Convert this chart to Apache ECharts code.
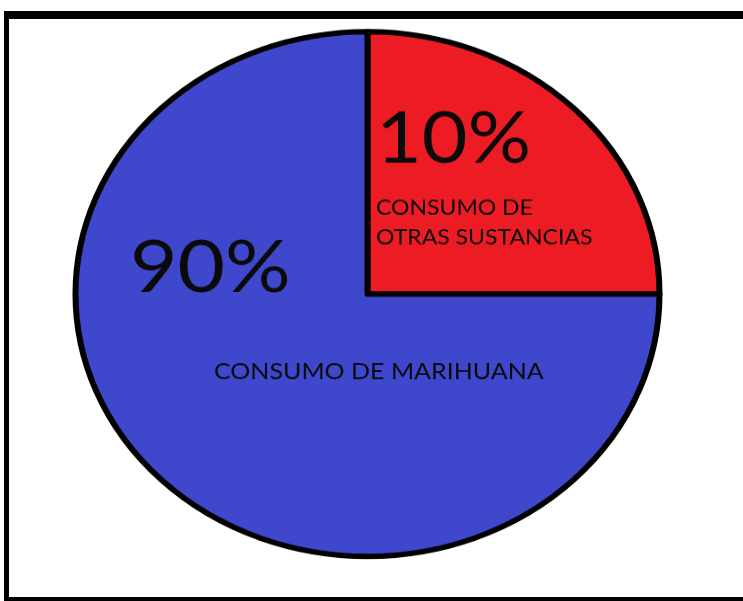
<!DOCTYPE html>
<html>
<head>
<meta charset="utf-8">
<script src="https://cdn.jsdelivr.net/npm/echarts@6/dist/echarts.min.js"></script>
<style>
  html, body { margin: 0; padding: 0; background: #fff; width: 743px; height: 601px; overflow: hidden; }
  #wrap { position: absolute; left: 0; top: 0; width: 743px; height: 601px; overflow: hidden; }
  #frame { position: absolute; left: 4px; top: 11px; width: 800px; height: 591px; box-sizing: border-box;
           border-left: 5px solid #000; border-top: 8px solid #000; border-bottom: 5px solid #000; }
  #chart { position: absolute; left: 0; top: 0; width: 743px; height: 669px; transform-origin: 0 0; transform: scaleY(0.8985); }
</style>
</head>
<body>
<div id="wrap">
  <div id="frame"></div>
  <div id="chart"></div>
</div>
<script>
// Data (slice sizes as drawn in the picture; label texts as written in it)
const categories = ['CONSUMO DE\nOTRAS SUSTANCIAS', 'CONSUMO DE MARIHUANA'];
const percentLabels = ['10%', '90%'];
const drawnShares = [25, 75];
const sliceColors = ['#ED1C24', '#3F48CC'];

const chart = echarts.init(document.getElementById('chart'), null, { renderer: 'canvas' });

const data = categories.map((name, i) => ({
  name: name,
  value: drawnShares[i],
  itemStyle: { color: sliceColors[i] }
}));

const option = {
  animation: false,
  backgroundColor: 'transparent',
  series: [{
    type: 'pie',
    center: [367.5, 327.2],
    radius: [0, 292],
    startAngle: 90,
    clockwise: true,
    silent: true,
    emphasis: { disabled: true },
    itemStyle: { borderColor: '#000', borderWidth: 6 },
    labelLine: { show: false },
    label: {
      show: true,
      position: 'inside',
      color: '#0a0a0a',
      fontFamily: 'Lato',
      formatter: function (p) {
        const big = p.dataIndex === 0 ? 'big0' : 'big1';
        const lines = p.name.split('\n').map(l => '{' + (p.dataIndex === 0 ? 'small0' : 'small1') + '|' + l + '}');
        return '{' + big + '|' + percentLabels[p.dataIndex] + '}\n' + lines.join('\n');
      },
      rich: {
        big0: { fontSize: 79, lineHeight: 118, fontFamily: 'Lato', color: '#0a0a0a' },
        small0: { fontSize: 23, lineHeight: 33, fontFamily: 'Lato', color: '#0a0a0a' },
        big1: { fontSize: 82, lineHeight: 198, fontFamily: 'Lato', color: '#0a0a0a' },
        small1: { fontSize: 25, lineHeight: 33, fontFamily: 'Lato', color: '#0a0a0a', padding: [0, 0, 0, 84] }
      }
    },
    labelLayout: function (p) {
      if (p.dataIndex === 0) {
        return { x: 376, y: 96.8, align: 'left', verticalAlign: 'top' };
      }
      return { x: 130, y: 199.5, align: 'left', verticalAlign: 'top' };
    },
    data: data
  }]
};
chart.setOption(option);
</script>
</body>
</html>
